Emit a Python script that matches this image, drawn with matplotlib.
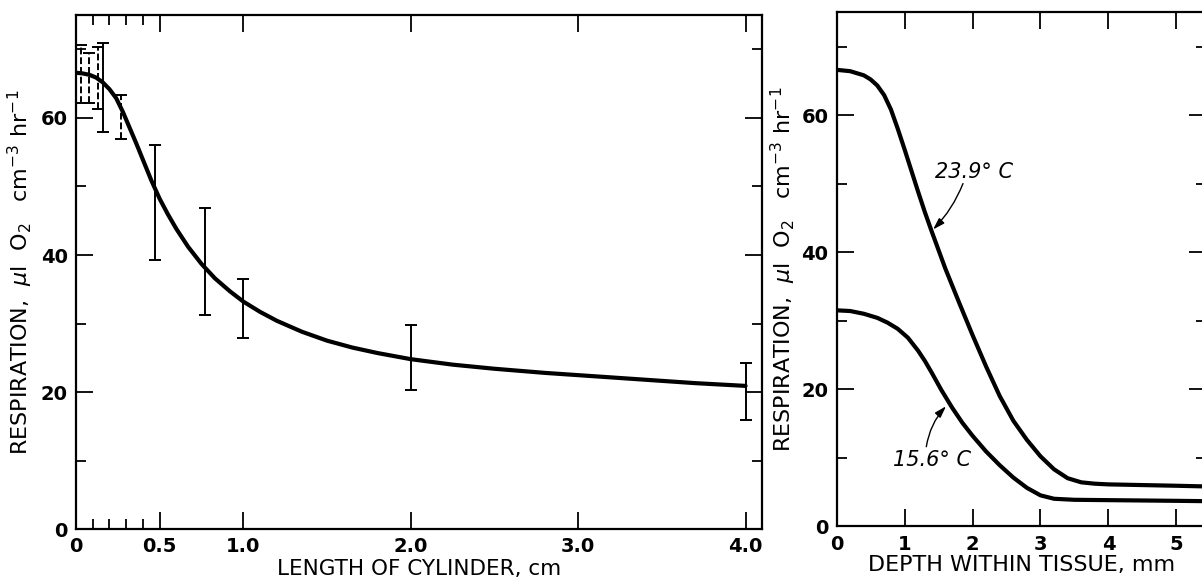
import matplotlib
matplotlib.use("Agg")
import matplotlib.pyplot as plt
from matplotlib.ticker import FixedLocator

plt.rcParams['font.family'] = ['DejaVu Sans']

# Left panel: respiration vs cylinder length
curve_len = [0, 0.04, 0.08, 0.12, 0.16, 0.2, 0.24, 0.28, 0.32, 0.36, 0.40, 0.45,
             0.5, 0.55, 0.6, 0.67, 0.75, 0.83, 0.92, 1.0, 1.1, 1.2, 1.35, 1.5,
             1.65, 1.8, 2.0, 2.25, 2.5, 2.8, 3.1, 3.4, 3.7, 4.0]
curve_resp = [66.6, 66.5, 66.3, 65.9, 65.2, 64.2, 62.9, 60.9, 58.6, 56.3, 53.9, 50.9,
              48.2, 45.9, 43.8, 41.2, 38.7, 36.6, 34.7, 33.2, 31.7, 30.4, 28.8, 27.5,
              26.5, 25.7, 24.8, 24.0, 23.4, 22.8, 22.3, 21.8, 21.3, 20.9]

bar_x = [0.03, 0.08, 0.13, 0.16, 0.27, 0.47, 0.77, 1.0, 2.0, 4.0]
bar_lo = [62.2, 62.2, 61.3, 58.0, 57.0, 39.2, 31.2, 27.9, 20.3, 15.9]
bar_hi = [70.7, 69.5, 70.4, 71.0, 63.4, 56.1, 46.9, 36.5, 29.8, 24.3]
bar_dashed = [True, True, True, False, True, False, False, False, False, False]

# Right panel: respiration vs depth within tissue
depth_hi = [0, 0.2, 0.4, 0.5, 0.6, 0.7, 0.8, 0.9, 1.0, 1.1, 1.2, 1.3, 1.4, 1.6,
            1.8, 2.0, 2.2, 2.4, 2.6, 2.8, 3.0, 3.2, 3.4, 3.6, 3.8, 4.0, 4.5, 5.0, 5.43]
resp_hi = [66.6, 66.4, 65.8, 65.2, 64.3, 62.9, 60.8, 58.0, 55.0, 51.9, 48.8, 45.8,
           43.0, 37.6, 32.7, 27.9, 23.3, 19.0, 15.4, 12.6, 10.2, 8.3, 7.0, 6.4, 6.2,
           6.1, 6.0, 5.9, 5.8]
depth_lo = [0, 0.2, 0.4, 0.6, 0.75, 0.9, 1.05, 1.2, 1.3, 1.4, 1.54, 1.7, 1.85, 2.0,
            2.2, 2.4, 2.6, 2.8, 3.0, 3.2, 3.5, 4.0, 4.5, 5.0, 5.43]
resp_lo = [31.5, 31.4, 31.0, 30.4, 29.7, 28.8, 27.5, 25.6, 24.1, 22.4, 19.9, 17.3,
           15.1, 13.2, 10.9, 8.9, 7.1, 5.6, 4.5, 4.0, 3.85, 3.8, 3.75, 3.7, 3.65]

ylabel = r'RESPIRATION,  $\mu$l  O$_2$   cm$^{-3}$ hr$^{-1}$'

fig = plt.figure(figsize=(12.02, 5.84), dpi=100)
ax1 = fig.add_axes([0.0632, 0.094, 0.571, 0.880])
ax2 = fig.add_axes([0.696, 0.099, 0.307, 0.880])


def style_axes(ax):
    for s in ax.spines.values():
        s.set_linewidth(1.6)
    ax.tick_params(which='both', direction='in', top=True, right=True,
                   width=1.3, labelsize=14, pad=6)
    ax.tick_params(which='major', length=12)
    ax.tick_params(which='minor', length=7)
    for lab in ax.get_xticklabels() + ax.get_yticklabels():
        lab.set_fontweight('bold')
    ax.yaxis.set_major_locator(FixedLocator([0, 20, 40, 60]))
    ax.yaxis.set_minor_locator(FixedLocator([10, 30, 50, 70]))
    ax.set_ylim(0, 75)


# left panel
ax1.plot(curve_len, curve_resp, color='black', lw=3, solid_capstyle='round')
for x, lo, hi, d in zip(bar_x, bar_lo, bar_hi, bar_dashed):
    eb = ax1.errorbar([x], [(lo + hi) / 2], yerr=[[(hi - lo) / 2], [(hi - lo) / 2]],
                      fmt='none', ecolor='black', elinewidth=1.4, capsize=4.5,
                      capthick=1.4)
    if d:
        eb[2][0].set_linestyle((0, (3.5, 1.5)))
ax1.set_xlim(0, 4.1)
ax1.xaxis.set_major_locator(FixedLocator([0, 0.5, 1.0, 2.0, 3.0, 4.0]))
ax1.xaxis.set_minor_locator(FixedLocator([0.1, 0.2, 0.3, 0.4]))
ax1.set_xticklabels(['0', '0.5', '1.0', '2.0', '3.0', '4.0'])
style_axes(ax1)
ax1.set_xlabel('LENGTH OF CYLINDER, cm', fontsize=15.5, labelpad=2)
ax1.set_ylabel(ylabel, fontsize=16, labelpad=4)

# right panel
ax2.plot(depth_hi, resp_hi, color='black', lw=3)
ax2.plot(depth_lo, resp_lo, color='black', lw=3)
ax2.set_xlim(0, 5.43)
ax2.xaxis.set_major_locator(FixedLocator([0, 1, 2, 3, 4, 5]))
style_axes(ax2)
ax2.set_xlabel('DEPTH WITHIN TISSUE, mm', fontsize=16, labelpad=1)
ax2.set_ylabel(ylabel, fontsize=16, labelpad=2)

arrow = dict(arrowstyle='-|>,head_length=0.7,head_width=0.22', color='black', lw=1,
             shrinkA=0, shrinkB=0)
ax2.text(1.45, 51.7, '23.9° C', fontsize=15, style='italic', ha='left', va='center')
ax2.annotate('', xy=(1.42, 43.3), xytext=(1.86, 50.0),
             arrowprops=dict(arrow, connectionstyle='arc3,rad=-0.1'))
ax2.text(0.83, 9.7, '15.6° C', fontsize=15, style='italic', ha='left', va='center')
ax2.annotate('', xy=(1.61, 17.5), xytext=(1.32, 11.6),
             arrowprops=dict(arrow, connectionstyle='arc3,rad=-0.15'))

fig.savefig('out.png', dpi=100)
